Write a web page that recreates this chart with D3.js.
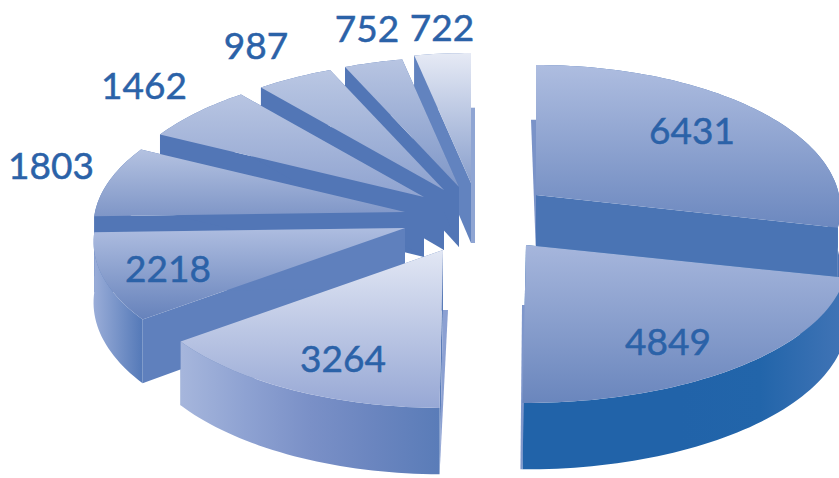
<!DOCTYPE html>
<html>
<head>
<meta charset="utf-8">
<script src="https://cdn.jsdelivr.net/npm/d3@7/dist/d3.min.js"></script>
<style>
  html, body { margin: 0; padding: 0; background: #fff; }
  svg { display: block; }
  text { font-family: Lato, "Open Sans", sans-serif; }
</style>
</head>
<body>
<svg id="chart" width="839" height="478"></svg>
<script>
// Slice values, clockwise from twelve o'clock
const values = [6431, 4849, 3264, 2218, 1803, 1462, 987, 752, 722];
const labels = values.map(String);

// Surface colours of each slice
const topLight = ["#aebde0", "#a6b6dc", "#e2e7f4", "#aebde0", "#b4c2e1", "#b8c5e2", "#bac7e3", "#b8c5e2", "#e6eaf5"];
const topDark  = ["#6c88bf", "#6a86bd", "#97a8d5", "#6682bb", "#7f96c7", "#8fa3d0", "#8da2cf", "#7f97c8", "#8aa0cd"];
const wallFill = ["#4a74b4", "#2163a9", "#5a7cb8", "#5f80bd", "#5276b6", "#5276b6", "#5276b6", "#5276b6", "#6283bf"];
const rimStops = [
  ["#4a74b4", "#4a74b4"],
  ["#2163a9", "#2163a9", "#2163a9", "#2265aa", "#3f73b5"],
  ["#a6b6dc", "#8ea2d2", "#7a90c7", "#6a85bf", "#5a7cb8"],
  ["#9aadd8", "#5479b8"],
  ["#5276b6", "#5276b6"], ["#5276b6", "#5276b6"], ["#5276b6", "#5276b6"], ["#5276b6", "#5276b6"], ["#6283bf", "#6283bf"]
];

// Projection of the tilted disc
const radiusX = [303, 320, 310, 310, 310, 310, 310, 310, 310];
const radiusY = 142.6, perspective = 0.097, thickness = 60;

// Pull-out of every slice: where its tip lands in the drawing
const tipX = [536, 526, 443, 405, 405, 424, 444, 459, 471];
const tipY = [195, 245, 250, 228, 212, 197, 190, 187, 183];

// Paint order, far slices first
const paintOrder = [8, 7, 6, 5, 4, 3, 0, 2, 1];

// Thin lit edges of the cut faces beside the central gap
const edgeStrips = [
  { slice: 8, edge: "end",   leanTip: 4,  leanRim: 4,  fill: "#8fa5d3" },
  { slice: 0, edge: "start", leanTip: 0,  leanRim: -5, fill: "#7a93c8" },
  { slice: 2, edge: "start", leanTip: 5,  leanRim: 0,  fill: "#8ba0d2" },
  { slice: 1, edge: "end",   leanTip: -4, leanRim: -2, fill: "#7f97cb" }
];

// Label centres
const labelX = [692, 668, 343, 168, 51, 144, 256, 367, 442];
const labelY = [129, 340, 357, 267, 164, 84, 44, 27, 26];
const labelColor = "#2b62a8";

const svg = d3.select("#chart");
const defs = svg.append("defs");
const line = d3.line().x(d => d[0]).y(d => d[1]).curve(d3.curveLinearClosed);

const arcs = d3.pie().value(d => d).sort(null).startAngle(0).endAngle(2 * Math.PI)(values);

// Point on the top face of slice i at angle a, fraction r of the radius
function surface(i, a, r = 1) {
  const y = -Math.cos(a) * r;
  const w = 1 - perspective * y;
  return [tipX[i] + radiusX[i] * Math.sin(a) * r / w, tipY[i] + radiusY * y / w];
}
// Height of the wall under a point at angle a
function drop(a, r = 1) {
  return thickness / (1 - perspective * (-Math.cos(a) * r));
}
function rimAngles(d) {
  const n = Math.max(8, Math.ceil((d.endAngle - d.startAngle) * 40));
  return d3.range(n + 1).map(k => d.startAngle + (d.endAngle - d.startAngle) * k / n);
}

function linearGradient(id, x1, y1, x2, y2, stops) {
  const g = defs.append("linearGradient").attr("id", id)
    .attr("gradientUnits", "userSpaceOnUse")
    .attr("x1", x1).attr("y1", y1).attr("x2", x2).attr("y2", y2);
  stops.forEach((c, k) => g.append("stop")
    .attr("offset", k / (stops.length - 1)).attr("stop-color", c));
  return `url(#${id})`;
}

const body = svg.append("g").attr("class", "pie");

paintOrder.forEach(i => {
  const d = arcs[i];
  const g = body.append("g").attr("class", "slice");
  const angles = rimAngles(d);
  const rim = angles.map(a => surface(i, a));
  const tip = [tipX[i], tipY[i]];

  // Radial cut faces
  [d.startAngle, d.endAngle].forEach(a => {
    const r = surface(i, a);
    g.append("path").attr("fill", wallFill[i]).attr("d", line([
      tip, r, [r[0], r[1] + drop(a)], [tip[0], tip[1] + drop(a, 0)]
    ]));
  });

  // Outer wall
  const under = angles.map((a, k) => [rim[k][0], rim[k][1] + drop(a)]).reverse();
  const xs = rim.map(p => p[0]);
  g.append("path")
    .attr("fill", linearGradient(`rim${i}`, d3.min(xs), 0, Math.min(d3.max(xs), 839), 0, rimStops[i]))
    .attr("d", line(rim.concat(under)));

  // Lit edge beside the gap
  edgeStrips.filter(s => s.slice === i).forEach(s => {
    const a = s.edge === "start" ? d.startAngle : d.endAngle;
    const r = surface(i, a);
    const tipFoot = tip[1] + drop(a, 0), rimFoot = r[1] + drop(a);
    g.append("path").attr("fill", s.fill).attr("d", line([
      [tip[0], tipFoot], [tip[0] + s.leanTip, tipFoot],
      [r[0] + s.leanRim, rimFoot], [r[0], rimFoot]
    ]));
  });

  // Top face, shaded from far edge to near edge
  const outline = [tip].concat(rim);
  const ys = outline.map(p => p[1]);
  g.append("path")
    .attr("fill", linearGradient(`top${i}`, 0, d3.min(ys), 0, d3.max(ys), [topLight[i], topDark[i]]))
    .attr("d", line(outline));
});

svg.append("g").attr("class", "labels").selectAll("text")
  .data(labels).join("text")
  .attr("x", (d, i) => labelX[i])
  .attr("y", (d, i) => labelY[i])
  .attr("text-anchor", "middle")
  .attr("dominant-baseline", "central")
  .attr("font-size", 37)
  .attr("fill", labelColor)
  .attr("stroke", labelColor)
  .attr("stroke-width", 0.5)
  .text(d => d);
</script>
</body>
</html>
